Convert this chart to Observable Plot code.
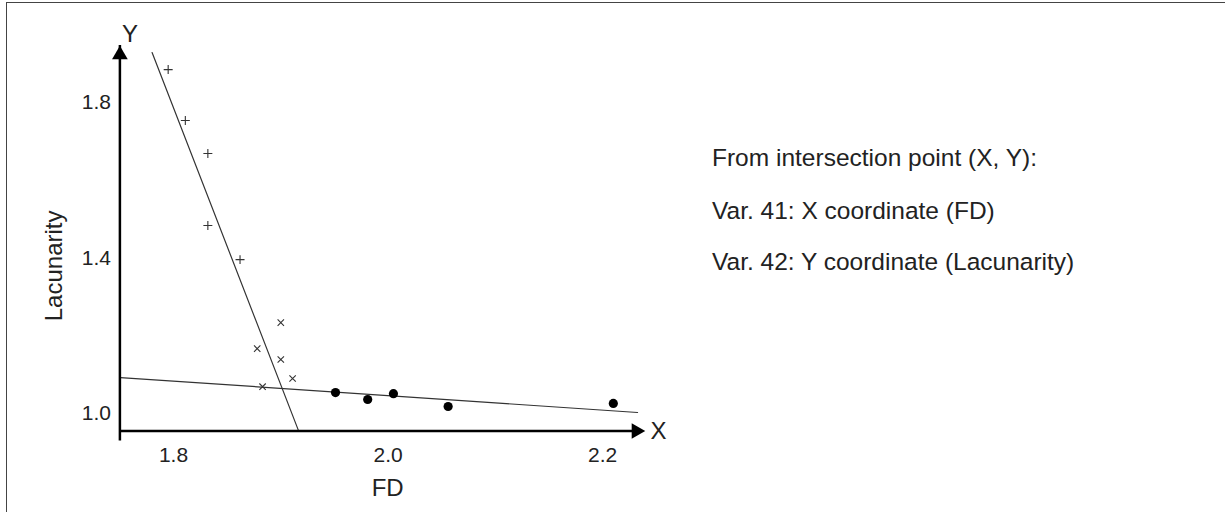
<!DOCTYPE html>
<html>
<head>
<meta charset="utf-8">
<script src="https://cdn.jsdelivr.net/npm/d3@7"></script>
<script src="https://cdn.jsdelivr.net/npm/@observablehq/plot@0.6"></script>
<style>
  html, body { margin: 0; padding: 0; background: #fff; }
  body { width: 1225px; height: 512px; position: relative; overflow: hidden; font-family: "Liberation Sans", Arial, sans-serif; }
  #frame { position: absolute; left: 6px; top: 2px; width: 1300px; height: 600px; border-top: 1.5px solid #444; border-left: 1.5px solid #444; box-sizing: border-box; pointer-events: none; }
  #chart { position: absolute; left: 0; top: 0; }
  #notes { position: absolute; left: 712px; top: 0; font-size: 24.5px; color: #222; }
  #notes div { position: absolute; left: 0; white-space: nowrap; line-height: 1; transform: translateY(-50%); }
</style>
</head>
<body>
<div id="chart"></div>
<div id="frame"></div>
<div id="notes"></div>
<script>
// ---- data ----
const plusFD = [1.795, 1.811, 1.832, 1.832, 1.862];
const plusLac = [1.885, 1.754, 1.669, 1.484, 1.396];

const timesFD = [1.900, 1.878, 1.900, 1.911, 1.883];
const timesLac = [1.234, 1.167, 1.139, 1.090, 1.069];

const dotFD = [1.951, 1.981, 2.005, 2.056, 2.210];
const dotLac = [1.054, 1.036, 1.051, 1.018, 1.026];

// fitted lines (endpoints)
const steepFD = [1.780, 1.9165];
const steepLac = [1.929, 0.956];
const flatFD = [1.7505, 2.2326];
const flatLac = [1.0926, 1.0026];

const xTicks = [1.8, 2.0, 2.2];
const yTicks = [1.0, 1.4, 1.8];
const xDomain = [1.75, 2.24];
const yDomain = [0.955, 1.947];

const xLabel = "FD";
const yLabel = "Lacunarity";
const notes = [
  "From intersection point (X, Y):",
  "Var. 41: X coordinate (FD)",
  "Var. 42: Y coordinate (Lacunarity)"
];

// ---- build tables ----
const plusPts = plusFD.map((x, i) => ({x, y: plusLac[i]}));
const timesPts = timesFD.map((x, i) => ({x, y: timesLac[i]}));
const dotPts = dotFD.map((x, i) => ({x, y: dotLac[i]}));
const steep = steepFD.map((x, i) => ({x, y: steepLac[i]}));
const flat = flatFD.map((x, i) => ({x, y: flatLac[i]}));

const font = "Liberation Sans, Arial, sans-serif";
const ink = "#222";

const chart = Plot.plot({
  width: 1225,
  height: 512,
  marginLeft: 119.4,
  marginRight: 580,
  marginTop: 45,
  marginBottom: 81.5,
  style: { fontFamily: font, background: "transparent", overflow: "visible" },
  x: { domain: xDomain },
  y: { domain: yDomain },
  marks: [
    Plot.axisX({ ticks: xTicks, tickFormat: d3.format(".1f"), tickSize: 0, tickPadding: 16, fontSize: 21, fill: ink, label: null }),
    Plot.axisY({ ticks: yTicks, tickFormat: d3.format(".1f"), tickSize: 0, tickPadding: 9, fontSize: 21, fill: ink, label: null }),
    // fitted lines
    Plot.line(steep, { x: "x", y: "y", stroke: "#333", strokeWidth: 1.2 }),
    Plot.line(flat, { x: "x", y: "y", stroke: "#333", strokeWidth: 1.2 }),
    // axes with arrowheads
    Plot.ruleX([xDomain[0]], { y1: yDomain[0], y2: yDomain[1], stroke: "#000", strokeWidth: 2.5, insetTop: 10 }),
    Plot.ruleY([yDomain[0]], { x1: xDomain[0], x2: xDomain[1], stroke: "#000", strokeWidth: 2.5, insetRight: 10 }),
    Plot.dot([{x: xDomain[0], y: yDomain[1]}], { x: "x", y: "y", symbol: "triangle2", r: 7.5, fill: "#000", stroke: "none", dy: 9.3 }),
    Plot.dot([{x: xDomain[1], y: yDomain[0]}], { x: "x", y: "y", symbol: "triangle2", r: 7.5, fill: "#000", stroke: "none", rotate: 90, dx: -9.3 }),
    // markers
    Plot.dot(plusPts, { x: "x", y: "y", symbol: "plus", r: 3, stroke: "#333", strokeWidth: 1.1 }),
    Plot.dot(timesPts, { x: "x", y: "y", symbol: "times", r: 3, stroke: "#333", strokeWidth: 1.1 }),
    Plot.dot(dotPts, { x: "x", y: "y", r: 4.6, fill: "#000", stroke: "none" }),
    // axis letters & titles
    Plot.text(["Y"], { frameAnchor: "top-left", dx: 2, dy: -11, fontSize: 24, fill: ink, lineAnchor: "middle" }),
    Plot.text(["X"], { frameAnchor: "bottom-right", dx: 5, dy: 0, fontSize: 24, fill: ink, textAnchor: "start", lineAnchor: "middle" }),
    Plot.text([xLabel], { frameAnchor: "bottom", dx: 5, dy: 57, fontSize: 24, fill: ink, lineAnchor: "middle" }),
    Plot.text([yLabel], { frameAnchor: "left", dx: -66, dy: 83, fontSize: 24, fill: ink, rotate: -90, lineAnchor: "middle" })
  ]
});
document.getElementById("chart").appendChild(chart);

const lineCenters = [158, 211, 262];
const notesEl = document.getElementById("notes");
notes.forEach((t, i) => {
  const d = document.createElement("div");
  d.textContent = t;
  d.style.top = lineCenters[i] + "px";
  notesEl.appendChild(d);
});
</script>
</body>
</html>
